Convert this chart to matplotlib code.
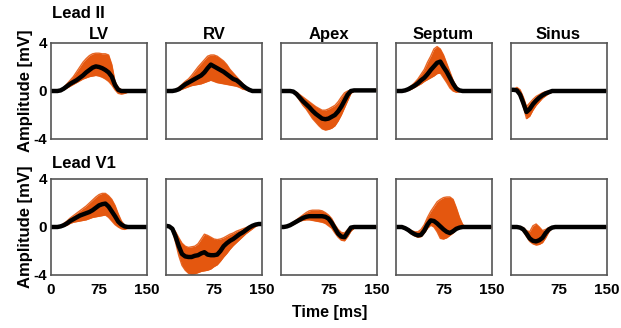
import numpy as np
import matplotlib
matplotlib.use("Agg")
import matplotlib.pyplot as plt

plt.rcParams['font.family'] = ['Liberation Sans', 'DejaVu Sans']
plt.rcParams['font.weight'] = 'bold'

# --- DATA (mV, sampled every 5 ms from 0 to 150 ms) ---
time_ms = np.arange(0, 151, 5)
sites = ["LV", "RV", "Apex", "Septum", "Sinus"]
leads = ["Lead II", "Lead V1"]

# Lead II
lv_ii_mean = [0, 0, 0, 0.05, 0.2, 0.4, 0.6, 0.75, 0.9, 1.1, 1.3, 1.55, 1.75, 1.95, 2.05, 2.0,
              1.9, 1.75, 1.55, 1.2, 0.5, 0.1, 0, 0, 0, 0, 0, 0, 0, 0, 0]
lv_ii_upper = [0, 0, 0, 0.1, 0.3, 0.6, 0.9, 1.2, 1.6, 2.0, 2.4, 2.7, 2.95, 3.1, 3.15, 3.15,
               3.1, 3.1, 3.0, 2.2, 0.8, 0.3, 0.1, 0.05, 0, 0, 0, 0, 0, 0, 0]
lv_ii_lower = [0, 0, 0, 0, 0.1, 0.25, 0.4, 0.55, 0.7, 0.85, 1.0, 1.1, 1.2, 1.25, 1.3, 1.25,
               1.15, 1.0, 0.8, 0.5, 0.1, -0.2, -0.25, -0.2, -0.1, 0, 0, 0, 0, 0, 0]

rv_ii_mean = [0, 0, 0, 0.05, 0.15, 0.35, 0.55, 0.7, 0.85, 1.0, 1.15, 1.3, 1.55, 1.9, 2.2, 2.05,
              1.9, 1.75, 1.6, 1.4, 1.2, 1.0, 0.9, 0.7, 0.45, 0.25, 0.1, 0, 0, 0, 0]
rv_ii_upper = [0, 0, 0, 0.1, 0.3, 0.55, 0.8, 1.0, 1.3, 1.65, 2.0, 2.3, 2.6, 2.9, 3.0, 3.0,
               2.9, 2.7, 2.5, 2.2, 1.8, 1.5, 1.2, 0.9, 0.6, 0.35, 0.15, 0.05, 0, 0, 0]
rv_ii_lower = [0, 0, 0, 0, 0.05, 0.15, 0.25, 0.35, 0.45, 0.5, 0.55, 0.6, 0.7, 0.8, 0.9, 0.8,
               0.7, 0.65, 0.6, 0.55, 0.5, 0.45, 0.4, 0.3, 0.15, 0.1, 0, 0, 0, 0, 0]

apex_ii_mean = [0, 0, 0, 0, -0.05, -0.25, -0.55, -0.85, -1.1, -1.35, -1.65, -1.9, -2.1, -2.3,
                -2.35, -2.3, -2.15, -2.0, -1.7, -1.3, -0.8, -0.3, 0, 0.05, 0.05, 0.05, 0.05,
                0.05, 0.05, 0.05, 0.05]
apex_ii_upper = [0, 0, 0, 0, 0, -0.1, -0.3, -0.5, -0.7, -0.9, -1.1, -1.3, -1.45, -1.6, -1.6,
                 -1.5, -1.35, -1.2, -0.9, -0.5, -0.15, 0, 0.05, 0.05, 0.05, 0.05, 0.05, 0.05,
                 0.05, 0.05, 0.05]
apex_ii_lower = [0, 0, 0, 0, -0.1, -0.4, -0.8, -1.2, -1.5, -1.9, -2.3, -2.6, -2.9, -3.15, -3.25,
                 -3.2, -3.1, -2.9, -2.5, -2.0, -1.4, -0.8, -0.2, 0, 0.05, 0.05, 0.05, 0.05,
                 0.05, 0.05, 0.05]

septum_ii_mean = [0, 0, 0, 0.05, 0.15, 0.3, 0.45, 0.65, 0.9, 1.1, 1.4, 1.75, 2.05, 2.35, 2.45,
                  2.0, 1.6, 1.1, 0.6, 0.2, 0.05, 0, 0, 0, 0, 0, 0, 0, 0, 0, 0]
septum_ii_upper = [0, 0, 0, 0.1, 0.25, 0.45, 0.7, 1.0, 1.4, 1.8, 2.4, 2.9, 3.5, 3.7, 3.5, 3.0,
                   2.3, 1.6, 0.9, 0.4, 0.1, 0, 0, 0, 0, 0, 0, 0, 0, 0, 0]
septum_ii_lower = [0, 0, 0, 0, 0.05, 0.15, 0.3, 0.45, 0.6, 0.8, 0.95, 1.1, 1.25, 1.45, 1.5, 1.1,
                   0.7, 0.25, 0.0, -0.1, -0.05, 0, 0, 0, 0, 0, 0, 0, 0, 0, 0]

sinus_ii_mean = [0.1, 0.1, 0.05, -0.3, -1.0, -1.75, -1.5, -1.1, -0.8, -0.55, -0.35, -0.2, -0.1,
                 0, 0, 0, 0, 0, 0, 0, 0, 0, 0, 0, 0, 0, 0, 0, 0, 0, 0]
sinus_ii_upper = [0.1, 0.15, 0.3, 0.1, -0.5, -1.3, -1.0, -0.7, -0.45, -0.3, -0.15, -0.05, 0,
                  0, 0, 0, 0, 0, 0, 0, 0, 0, 0, 0, 0, 0, 0, 0, 0, 0, 0]
sinus_ii_lower = [0.1, 0.05, 0, -0.5, -1.3, -2.3, -2.1, -1.6, -1.2, -0.9, -0.6, -0.4, -0.2,
                  -0.1, 0, 0, 0, 0, 0, 0, 0, 0, 0, 0, 0, 0, 0, 0, 0, 0, 0]

# Lead V1
lv_v1_mean = [0, 0, 0, 0.05, 0.15, 0.3, 0.5, 0.65, 0.8, 0.95, 1.05, 1.15, 1.25, 1.4, 1.6, 1.8,
              1.9, 1.95, 1.7, 1.3, 0.9, 0.45, 0.2, 0.05, 0, 0, 0, 0, 0, 0, 0]
lv_v1_upper = [0, 0, 0, 0.1, 0.3, 0.5, 0.75, 0.95, 1.15, 1.35, 1.55, 1.75, 2.0, 2.25, 2.5, 2.7,
               2.8, 2.8, 2.6, 2.3, 1.8, 1.1, 0.5, 0.15, 0, 0, 0, 0, 0, 0, 0]
lv_v1_lower = [0, 0, 0, 0, 0.05, 0.15, 0.3, 0.4, 0.45, 0.5, 0.55, 0.6, 0.7, 0.8, 0.85, 0.9,
               0.95, 1.0, 0.8, 0.5, 0.2, 0.0, -0.15, -0.2, -0.1, 0, 0, 0, 0, 0, 0]

rv_v1_mean = [0.1, 0.05, -0.15, -0.8, -1.6, -2.25, -2.45, -2.5, -2.5, -2.4, -2.35, -2.2, -2.1,
              -2.3, -2.35, -2.35, -2.3, -2.0, -1.6, -1.35, -1.15, -1.0, -0.8, -0.6, -0.45,
              -0.25, -0.05, 0.1, 0.2, 0.25, 0.25]
rv_v1_upper = [0.1, 0.05, -0.05, -0.4, -0.9, -1.35, -1.6, -1.7, -1.65, -1.6, -1.4, -1.0, -0.6,
               -0.7, -0.85, -1.0, -1.05, -1.0, -0.9, -0.75, -0.6, -0.5, -0.35, -0.25, -0.15,
               -0.05, 0.05, 0.15, 0.2, 0.25, 0.25]
rv_v1_lower = [0.1, 0.0, -0.3, -1.3, -2.4, -3.2, -3.6, -3.85, -3.95, -3.9, -3.8, -3.7, -3.65,
               -3.6, -3.5, -3.3, -3.15, -2.85, -2.5, -2.2, -1.85, -1.55, -1.3, -1.05, -0.8,
               -0.55, -0.35, -0.15, 0.05, 0.2, 0.25]

apex_v1_mean = [0, 0, 0.05, 0.15, 0.3, 0.45, 0.6, 0.75, 0.85, 0.9, 0.9, 0.9, 0.9, 0.9, 0.85,
                0.7, 0.35, -0.1, -0.55, -0.8, -0.85, -0.45, -0.05, 0, 0, 0, 0, 0, 0, 0, 0]
apex_v1_upper = [0, 0, 0.05, 0.2, 0.4, 0.6, 0.8, 1.0, 1.2, 1.35, 1.4, 1.4, 1.4, 1.35, 1.2, 1.0,
                 0.7, 0.2, -0.2, -0.45, -0.5, -0.2, 0, 0, 0, 0, 0, 0, 0, 0, 0]
apex_v1_lower = [0, 0, 0, 0.1, 0.2, 0.35, 0.5, 0.55, 0.6, 0.6, 0.55, 0.5, 0.45, 0.4, 0.3, 0.1,
                 -0.1, -0.5, -0.85, -1.1, -1.15, -0.8, -0.35, -0.1, 0, 0, 0, 0, 0, 0, 0]

septum_v1_mean = [0, 0, 0, -0.1, -0.25, -0.45, -0.6, -0.7, -0.65, -0.3, 0.2, 0.55, 0.5, 0.3,
                  0.05, -0.2, -0.4, -0.5, -0.35, -0.15, -0.05, 0, 0, 0, 0, 0, 0, 0, 0, 0, 0]
septum_v1_upper = [0, 0, 0, -0.05, -0.15, -0.3, -0.4, -0.4, -0.2, 0.2, 0.8, 1.3, 1.7, 2.1,
                   2.3, 2.45, 2.5, 2.5, 2.3, 1.6, 0.8, 0.2, 0, 0, 0, 0, 0, 0, 0, 0, 0]
septum_v1_lower = [0, 0, 0, -0.15, -0.35, -0.6, -0.75, -0.85, -0.8, -0.5, -0.1, 0.15, 0.0,
                   -0.4, -0.95, -1.0, -0.9, -0.7, -0.5, -0.25, -0.1, 0, 0, 0, 0, 0, 0, 0, 0,
                   0, 0]

sinus_v1_mean = [0, 0, 0, -0.05, -0.2, -0.55, -0.95, -1.15, -1.2, -1.1, -0.9, -0.5, -0.2, -0.05,
                 0, 0, 0, 0, 0, 0, 0, 0, 0, 0, 0, 0, 0, 0, 0, 0, 0]
sinus_v1_upper = [0, 0, 0, 0, -0.05, -0.3, -0.4, 0.1, 0.25, 0.0, -0.3, -0.2, -0.05, 0, 0, 0,
                  0, 0, 0, 0, 0, 0, 0, 0, 0, 0, 0, 0, 0, 0, 0]
sinus_v1_lower = [0, 0, 0, -0.1, -0.35, -0.8, -1.2, -1.4, -1.5, -1.45, -1.3, -0.9, -0.4, -0.1,
                  0, 0, 0, 0, 0, 0, 0, 0, 0, 0, 0, 0, 0, 0, 0, 0, 0]

panels = [
    [(lv_ii_mean, lv_ii_upper, lv_ii_lower), (rv_ii_mean, rv_ii_upper, rv_ii_lower),
     (apex_ii_mean, apex_ii_upper, apex_ii_lower),
     (septum_ii_mean, septum_ii_upper, septum_ii_lower),
     (sinus_ii_mean, sinus_ii_upper, sinus_ii_lower)],
    [(lv_v1_mean, lv_v1_upper, lv_v1_lower), (rv_v1_mean, rv_v1_upper, rv_v1_lower),
     (apex_v1_mean, apex_v1_upper, apex_v1_lower),
     (septum_v1_mean, septum_v1_upper, septum_v1_lower),
     (sinus_v1_mean, sinus_v1_upper, sinus_v1_lower)],
]

ORANGE = '#E4570F'
W, H = 621, 328
fig = plt.figure(figsize=(W / 100, H / 100), dpi=100)

col_left = [51, 166, 280.5, 395.5, 510.5]
row_top = [43, 179]
ax_w, ax_h = 96, 96

for r in range(2):
    for c in range(5):
        x0 = col_left[c] / W
        y0 = 1 - (row_top[r] + ax_h) / H
        ax = fig.add_axes([x0, y0, ax_w / W, ax_h / H])
        mean, upper, lower = [np.array(a) for a in panels[r][c]]
        ax.fill_between(time_ms, lower, upper, color=ORANGE, lw=0)
        for frac in [0.0, 0.25, 0.5, 0.75, 1.0]:
            ax.plot(time_ms, lower + frac * (upper - lower), color=ORANGE, lw=1.0, alpha=0.9)
        ax.plot(time_ms, mean, color='black', lw=3.2, solid_capstyle='butt')
        ax.set_xlim(0, 150)
        ax.set_ylim(-4, 4)
        ax.tick_params(length=0, labelsize=11, pad=3)
        ax.tick_params(axis='x', pad=6)
        for s in ax.spines.values():
            s.set_color('#555555')
            s.set_linewidth(1.2)
        ax.set_xticks([0, 75, 150])
        ax.set_yticks([-4, 0, 4])
        if r == 1:
            ax.set_xticklabels(['0' if c == 0 else '', '75', '150'], fontweight='bold')
        else:
            ax.set_xticklabels([])
        if c == 0:
            ax.set_yticklabels(['-4', '0', '4'], fontweight='bold')
            ax.set_ylabel('Amplitude [mV]', fontsize=12, fontweight='bold', labelpad=0)
        else:
            ax.set_yticklabels([])
        if r == 0:
            ax.set_title(sites[c], fontsize=12, fontweight='bold', pad=3)

fig.text(52 / W, 1 - 14 / H, leads[0], fontsize=12, fontweight='bold', va='center', ha='left')
fig.text(52 / W, 1 - 163 / H, leads[1], fontsize=12, fontweight='bold', va='center', ha='left')
fig.text(330 / W, 1 - 313 / H, 'Time [ms]', fontsize=11.5, fontweight='bold', va='center', ha='center')

fig.savefig('out.png', dpi=100)
